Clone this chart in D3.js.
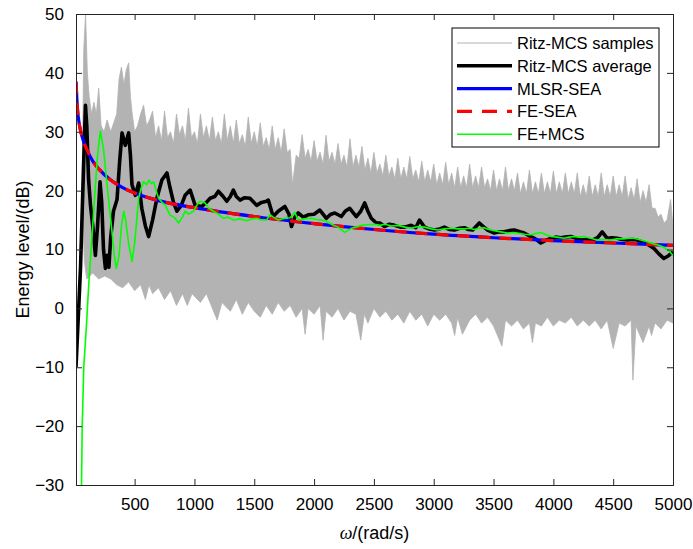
<!DOCTYPE html>
<html><head><meta charset="utf-8">
<script src="https://cdn.jsdelivr.net/npm/d3@7"></script>
<style>
body{margin:0;background:#fff}
svg{display:block;font-family:"Liberation Sans",Arial,Helvetica,sans-serif}
</style>
</head><body>
<svg id="chart" width="693" height="549"></svg>
<script>
// ---------- data ----------
const xTicks = [500,1000,1500,2000,2500,3000,3500,4000,4500,5000];
const yTicks = [-30,-20,-10,0,10,20,30,40,50];
const legendLabels = ["Ritz-MCS samples","Ritz-MCS average","MLSR-SEA","FE-SEA","FE+MCS"];

// Ritz-MCS samples: upper / lower envelope of the grey band
const bandUpperW = [60,75,90,105,120,140,160,180,200,220,245,270,300,325,350,370,390,410,430,450,465,480,500,525,550,575,600,625,
 650,675,700,725,750,775,800,825,850,875,900,925,950,975,1000,1025,1050,1075,1100,1125,1150,1175,1200,1225,1250,1275,1300,1325,1350,1375,1400,1425,1450,1475,1500,1525,1550,1575,1600,1625,1650,1675,1700,1725,1750,1775,1800,1820,
 1850,1875,1900,1925,1950,1975,2000,2025,2050,2075,2100,2125,2150,2175,2200,2225,2250,2275,2300,2325,2350,2375,2400,2425,2450,2475,2500,2525,2550,2575,2600,2625,2650,2675,2700,2725,2750,2775,2800,2825,2850,2875,2900,2925,2950,2975,
 3000,3025,3050,3075,3100,3125,3150,3175,3200,3225,3250,3275,3300,3325,3350,3375,3400,3425,3450,3475,3500,3525,3550,3575,3600,3625,3650,3675,3700,3725,3750,3775,3800,3825,3850,3875,3900,3925,3950,3975,
 4000,4025,4050,4075,4100,4125,4150,4175,4200,4225,4250,4275,4300,4325,4350,4375,4400,4425,4450,4475,4500,4525,4550,4575,4600,4625,4650,4675,4700,4725,4750,4775,4800,4825,4850,4875,4900,4925,4950,4980,5000];
const bandUpperV = [20,44,50,40,36,33,35,33,37.4,31,30,32,30,31.5,33,39,41,38,40.5,41.7,36,33,30,31,33,34.5,31,32,
 33.5,29,31,28.5,33.5,29,30,28,33,29.5,31,28.5,34,29,30,28,33,29,31,28.5,32.5,28.5,30,28,33,28.5,31,28,32,28,29.5,27.5,32.5,28,30,27.5,31.5,27.5,29,27,31,27,29,26.5,30.5,26.5,27,21,
 26,25.5,29.5,25.5,27,25,28.5,25,26.5,24.5,29.4,25,26.5,24.5,28,24.5,26,24,28.8,24,26,24,27.5,23.5,25.5,23,26.5,23,24.5,22.5,26,22.5,24,22,25.5,22,24,22,25.8,22,23.5,21.5,25,21.5,23.5,21.5,
 24.5,21,23,21,24.8,21,23,20.5,24,20.5,22.5,20.5,24.5,20.5,22.5,20.5,24,20.5,22,20,23.5,20,22,20,24,20,22,20,23,19.5,21.5,19.5,23.5,19.5,21.5,19.5,23,19.5,21.5,19.5,
 23.3,19.5,21.5,19.5,23,19.5,21.5,19.5,23,19,21,19,22.5,19,21,19,23,19,21,19,22.5,19,21,19,22.5,18.5,20.5,18.5,22,18,20,18,21,17,17,15.5,16,14.5,15,18.5,14];
const bandLowerW = [60,80,100,150,200,250,300,350,400,450,500,550,590,620,650,700,750,800,850,900,940,980,1050,1100,1150,1190,1230,1300,1350,1400,1450,1500,1550,1600,1650,1700,1750,1800,1850,1900,1925,1950,2000,2050,2075,2100,2150,2200,2250,2300,2350,2390,2420,2450,2500,2550,2600,2650,2700,2750,2800,2850,2900,2950,3000,3050,3100,3150,3175,3200,3240,3300,3350,3400,3450,3500,3570,3600,3650,3700,3750,3800,3825,3850,3900,3950,4000,4050,4100,4150,4200,4250,4300,4350,4400,4450,4500,4550,4600,4650,4665,4690,4750,4800,4820,4850,4900,4950,5000];
const bandLowerV = [18,8,5,6,5,5.5,5,4,3.5,4.5,3,4,1.5,4,2.5,3.5,1.5,3,0.5,2.5,0.5,2.5,1,2.5,0,-2,1,-0.5,1.5,-1,1,-0.5,-1.5,0.5,-1,1,-0.5,0.5,-1.5,0,-4.4,0,-1,0.5,-5.4,-0.5,-1.5,0,-2,-0.5,-1,-5.4,-1,-2.5,0,-1.5,-0.5,-2,-1,-2.5,-0.5,-2,-1,-3,-1,-2,-1,-2.5,-4.6,-1.5,-4.4,-2,-1,-2.5,-1.5,-3,-6.4,-2,-3,-2,-3.5,-2.5,-5.8,-2.5,-3,-1.5,-3,-2,-2.5,-1.5,-3,-2,-3,-2,-3.5,-2,-6.8,-2.5,-3,-2,-12.2,-3,-5.8,-3,-4.6,-2.5,-3.5,-2,-2.5];

// Ritz-MCS average
const avgW = [10,48,70,89,100,115,131,150,172,190,211,225,240,256,270,285,300,323,353,375,395,422,450,465,478,506,534,560,590,617,650,686,728,770,797,825,853,890,922,964,1006,1061,1100,1131,1170,1200,1240,1270,1300,1325,1350,1381,1420,1464,1520,1560,1603,1617,1658,1700,1756,1790,1811,1840,1867,1910,1950,2000,2048,2103,2140,2173,2228,2260,2298,2353,2390,2423,2450,2478,2520,2550,2589,2630,2673,2720,2756,2811,2850,2881,2923,2960,3006,3050,3089,3130,3173,3215,3256,3290,3326,3381,3420,3450,3506,3550,3589,3630,3673,3720,3756,3811,3850,3895,3940,3978,4020,4061,4100,4145,4190,4228,4280,4325,4370,4408,4450,4490,4533,4575,4617,4660,4700,4770,4839,4880,4923,4960,5000];
const avgV = [-10,7,22,34.5,31,22,17.5,14,9,14,21.5,18,10,6.8,9,7,12,16.5,18.5,25,29.8,27.7,29.8,26,21,19.2,21.3,17,14,12.2,15,18.7,21.8,23,20.4,18,16.5,17.5,19.2,20.1,17.5,17.3,18,18.7,19,19.9,19,18.2,19,20.1,19,18.4,18.8,18.7,17.5,18,18.2,18.4,15.6,16.5,17.3,16,13.9,15.5,16.2,15.5,15.9,16,16.7,15.3,16,16.2,15.6,16.5,17,15.6,16.5,17.9,16.5,15.3,14.5,14.5,13.9,14.3,14.1,13.8,13.8,14.1,13.7,15,13.8,13.5,13.3,13.5,13.8,13.4,13.3,13.6,13.7,13.4,13.3,14.5,13.8,13.3,12.8,13,13,13.2,13.3,13,12.8,12.2,11.8,11.1,11.6,11.9,12.1,12,12.1,12.2,11.9,11.6,11.7,11.6,12,13,11.9,12,11.9,11.7,11.6,11.7,11.6,11.1,10.2,9.3,8.5,8.9,9.6];

// MLSR-SEA and FE-SEA (coincident smooth curves)
const seaW = [10,20,40,60,100,150,200,300,400,500,700,1000,1500,2000,2500,3000,3500,4000,4500,5000];
const mlsrV = [38.5,34.5,31,29.2,27,25,23.7,21.8,20.5,19.6,18.3,17.1,15.6,14.4,13.4,12.6,12,11.5,11.1,10.7];
const feseaV = [38.5,34.5,31,29.2,27,25,23.7,21.8,20.5,19.6,18.3,17.1,15.6,14.4,13.4,12.6,12,11.5,11.1,10.7];

// FE+MCS
const fmW = [52,56,62,75,97,118,140,161,190,214,240,270,290,311,330,347,370,390,409,425,450,478,500,534,555,575,600,620,640,659,680,700,730,756,797,830,867,900,922,950,992,1020,1047,1089,1120,1159,1200,1242,1280,1325,1380,1436,1480,1520,1560,1603,1631,1660,1700,1756,1800,1839,1867,1920,1978,2020,2061,2100,2145,2200,2256,2280,2311,2350,2395,2450,2506,2550,2589,2650,2700,2760,2811,2870,2923,2980,3034,3090,3145,3200,3256,3300,3340,3380,3423,3460,3506,3560,3617,3660,3700,3760,3811,3850,3895,3940,3978,4030,4089,4130,4172,4210,4256,4310,4367,4420,4478,4530,4589,4630,4673,4730,4784,4830,4867,4900,4936,4970,5000];
const fmV = [-33,-30,-20,-10,-3,4.6,11,17.5,26,30.1,27,21,17,13,9,6.8,9,14,16.5,15,11,8,11,18.7,20.5,21.5,21,21.8,21.2,21.5,20,18.7,18,17.5,15.8,15.5,14.5,15.5,16.5,16,16.5,17.5,18.2,17.9,17,16.5,16,15.3,15.5,15,15.2,14.9,15.2,15.3,15,15,15.9,15.5,15,15.3,15.4,16.3,15,15.2,15.3,15.1,15,14.8,14.3,13.8,12.9,13.2,13.6,13.8,14.1,14.2,14.3,14.1,14.3,14,14.1,13.8,13.6,13.9,13.8,13.5,13.3,13.5,13.6,13.5,13.5,13.6,13.4,13.6,13.7,13.4,13.2,13,12.8,12.9,12.8,12.6,12.5,12.7,12.9,12.5,12.2,12.1,11.9,12.1,12.2,12.1,12.2,11.9,11.6,11.7,11.6,11.8,11.8,11.9,11.9,11.6,11.3,11,10.8,10.6,10.2,9.7,9];

// ---------- drawing ----------
const svg = d3.select("#chart");
const L = 76, R = 673, T = 14, B = 485;
const x = d3.scaleLinear().domain([10, 5000]).range([L, R]);
const y = d3.scaleLinear().domain([-30, 50]).range([B, T]);
const axisColor = "#262626";

svg.append("defs").append("clipPath").attr("id","clip")
  .append("rect").attr("x",L).attr("y",T).attr("width",R-L).attr("height",B-T);

const plot = svg.append("g").attr("clip-path","url(#clip)");
const zip = (w, v) => w.map((d, i) => [d, v[i]]);
const line = d3.line().x(d => x(d[0])).y(d => y(d[1]));

// grey band (samples)
const bandPts = zip(bandUpperW, bandUpperV).concat(zip(bandLowerW, bandLowerV).reverse());
plot.append("path").attr("d", line(bandPts) + "Z")
  .attr("fill", "#b3b3b3").attr("stroke", "#b3b3b3").attr("stroke-width", 0.8).attr("stroke-linejoin","miter");

plot.append("path").attr("d", line(zip(avgW, avgV)))
  .attr("fill","none").attr("stroke","#000").attr("stroke-width",3.6).attr("stroke-linejoin","round");

const smooth = d3.line().x(d => x(d[0])).y(d => y(d[1])).curve(d3.curveMonotoneX);
plot.append("path").attr("d", smooth(zip(seaW, mlsrV)))
  .attr("fill","none").attr("stroke","#0000ff").attr("stroke-width",3.2);
plot.append("path").attr("d", smooth(zip(seaW, feseaV)))
  .attr("fill","none").attr("stroke","#ff0000").attr("stroke-width",3.2).attr("stroke-dasharray","12,9");

plot.append("path").attr("d", line(zip(fmW, fmV)))
  .attr("fill","none").attr("stroke","#00ff00").attr("stroke-width",1.6).attr("stroke-linejoin","round");

// axes
const fs = 17;
const gx = svg.append("g").attr("transform",`translate(0,${B})`)
  .call(d3.axisBottom(x).tickValues(xTicks).tickSize(-6).tickPadding(13).tickFormat(d3.format("d")));
const gxt = svg.append("g").attr("transform",`translate(0,${T})`)
  .call(d3.axisTop(x).tickValues(xTicks).tickSize(-6).tickFormat(""));
const gy = svg.append("g").attr("transform",`translate(${L},0)`)
  .call(d3.axisLeft(y).tickValues(yTicks).tickSize(-6).tickPadding(12));
const gyr = svg.append("g").attr("transform",`translate(${R},0)`)
  .call(d3.axisRight(y).tickValues(yTicks).tickSize(-6).tickFormat(""));
[gx,gxt,gy,gyr].forEach(g => {
  g.selectAll(".domain").attr("stroke",axisColor).attr("stroke-width",1);
  g.selectAll(".tick line").attr("stroke",axisColor).attr("stroke-width",1);
  g.selectAll("text").attr("fill","#000").style("font-size",fs+"px")
    .style("font-family",'"Liberation Sans",Arial,Helvetica,sans-serif');
});

// axis labels
const xl = svg.append("text").attr("x",(L+R)/2).attr("y",539).attr("text-anchor","middle")
  .style("font-size","18px");
xl.append("tspan").text("ω").style("font-style","italic").style("font-family",'"Liberation Serif","Times New Roman",serif');
xl.append("tspan").text("/(rad/s)");
svg.append("text").attr("transform",`translate(29,${(T+B)/2}) rotate(-90)`)
  .attr("text-anchor","middle").style("font-size","18px").text("Energy level/(dB)");

// legend
const lg = svg.append("g");
lg.append("rect").attr("x",452).attr("y",28).attr("width",207).attr("height",119)
  .attr("fill","#fff").attr("stroke","#000").attr("stroke-width",1);
const legStyles = [
  {c:"#b3b3b3", w:1, dash:null},
  {c:"#000", w:3.6, dash:null},
  {c:"#0000ff", w:3.2, dash:null},
  {c:"#ff0000", w:3.2, dash:"15,10"},
  {c:"#00ff00", w:1.6, dash:null}
];
legendLabels.forEach((lab, i) => {
  const cy = 43 + i * 22.8;
  const s = legStyles[i];
  const ln = lg.append("line").attr("x1",457).attr("x2",512).attr("y1",cy).attr("y2",cy)
    .attr("stroke",s.c).attr("stroke-width",s.w);
  if (s.dash) ln.attr("stroke-dasharray", s.dash);
  lg.append("text").attr("x",517).attr("y",cy).attr("dy","0.36em")
    .style("font-size","16.5px").text(lab);
});
</script>
</body></html>
